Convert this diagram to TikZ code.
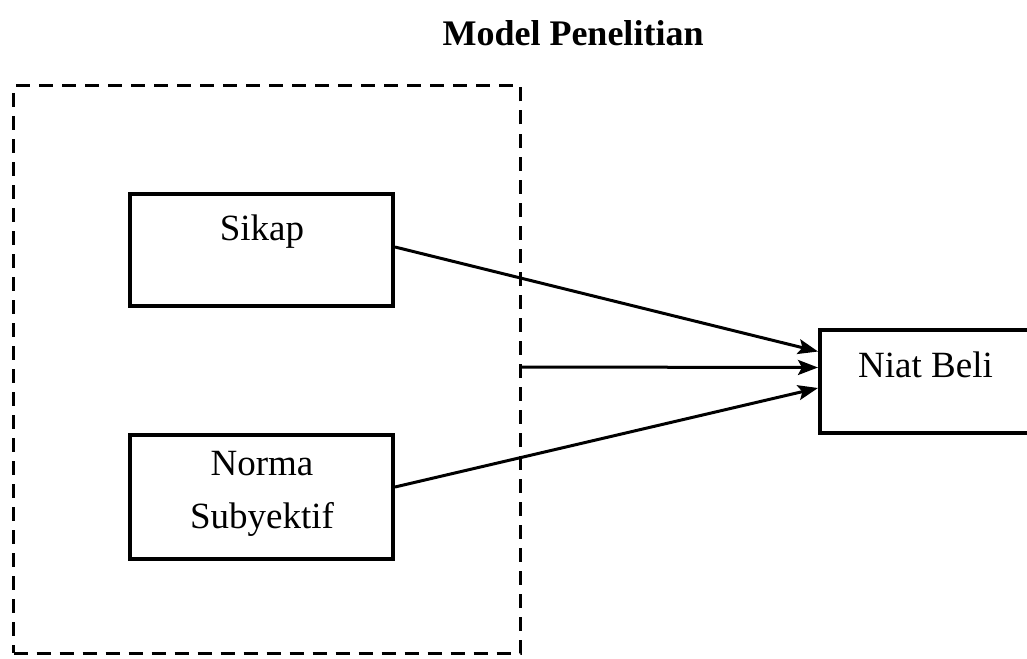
\documentclass[tikz,border=0pt]{standalone}
\usepackage{fontspec}
\setmainfont{Liberation Serif}
\usetikzlibrary{arrows.meta}
\begin{document}
\begin{tikzpicture}[x=1pt,y=-1pt,
  boxnode/.style={draw, line width=4pt, inner sep=0pt},
  dashbox/.style={draw, line width=3pt, dash pattern=on 14pt off 9pt, inner sep=0pt},
  lbl/.style={anchor=base, inner sep=0pt, font=\fontsize{37}{44}\selectfont},
  arr/.style={line width=3pt, -{Stealth[length=20pt,width=15pt,inset=4pt]}}]
\useasboundingbox (0,0) rectangle (1027,658);
\clip (0,0) rectangle (1027,658);
% title
\node[lbl, font=\fontsize{36}{43}\selectfont\bfseries] (title) at (573,46) {Model Penelitian};
% dashed group
\node[dashbox, minimum width=506.5pt, minimum height=567pt] (group) at (266.75,369.5) {};
% boxes
\node[boxnode, minimum width=263pt, minimum height=112pt] (sikap) at (261.5,250) {};
\node[boxnode, minimum width=263pt, minimum height=124pt] (norma) at (261.5,497) {};
\node[boxnode, minimum width=232pt, minimum height=103pt] (niat) at (936,381.5) {};
% labels
\node[lbl] (tsikap) at (262,240) {Sikap};
\node[lbl] (tnorma1) at (262,475) {Norma};
\node[lbl] (tnorma2) at (262,528) {Subyektif};
\node[lbl] (tniat) at (925.5,377) {Niat Beli};
% connectors
\draw[arr] ([yshift=3pt]sikap.east) -- ([yshift=30pt]niat.west);
\draw[arr] ([yshift=2.5pt]group.east) -- ([yshift=14pt]niat.west);
\draw[arr] ([yshift=10pt]norma.east) -- ([yshift=-6.5pt]niat.west);
\end{tikzpicture}
\end{document}
